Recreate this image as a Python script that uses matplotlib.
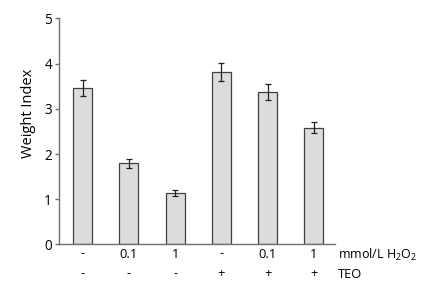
import matplotlib
matplotlib.use("Agg")
import matplotlib.pyplot as plt
from matplotlib.transforms import blended_transform_factory

plt.rcParams['font.family'] = ['Open Sans', 'DejaVu Sans']

h2o2_labels = ['-', '0.1', '1', '-', '0.1', '1']
teo_labels = ['-', '-', '-', '+', '+', '+']
values = [3.46, 1.80, 1.14, 3.81, 3.37, 2.58]
errors = [0.18, 0.10, 0.07, 0.20, 0.17, 0.12]
yticks = [0, 1, 2, 3, 4, 5]

fig = plt.figure(figsize=(4.29, 2.92), dpi=100)
ax = fig.add_axes([0.1375, 0.1627, 0.6435, 0.774])
x = list(range(len(values)))
ax.bar(x, values, width=0.41, color='#dcdcdc', edgecolor='#404040', linewidth=0.9)
ax.errorbar(x, values, yerr=errors, fmt='none', ecolor='#202020', elinewidth=0.9,
            capsize=2.5, capthick=0.9)
ax.set_xlim(-0.51, 5.46)
ax.set_ylim(0, 5)
ax.set_yticks(yticks)
ax.set_yticklabels([str(v) for v in yticks], fontsize=9.8)
ax.set_xticks([])
for s in ['top', 'right']:
    ax.spines[s].set_visible(False)
for s in ['left', 'bottom']:
    ax.spines[s].set_color('#707070')
    ax.spines[s].set_linewidth(1.0)
ax.tick_params(axis='y', direction='out', length=3, width=1, color='#707070', pad=2)
fig.text(28/429, 1 - 113/292, 'Weight Index', rotation=90, ha='center', va='center',
         fontsize=10.5)

tr = blended_transform_factory(ax.transData, fig.transFigure)
for i, (a, b) in enumerate(zip(h2o2_labels, teo_labels)):
    ax.text(i, 1 - 254/292, a, transform=tr, ha='center', va='center', fontsize=9.3)
    ax.text(i, 1 - 274/292, b, transform=tr, ha='center', va='center', fontsize=9.3)
fig.text(338/429, 1 - 255/292, r'mmol/L H$_\mathregular{2}$O$_\mathregular{2}$', ha='left', va='center', fontsize=9)
fig.text(338/429, 1 - 274/292, 'TEO', ha='left', va='center', fontsize=9.3)

fig.savefig('out.png', dpi=100)
